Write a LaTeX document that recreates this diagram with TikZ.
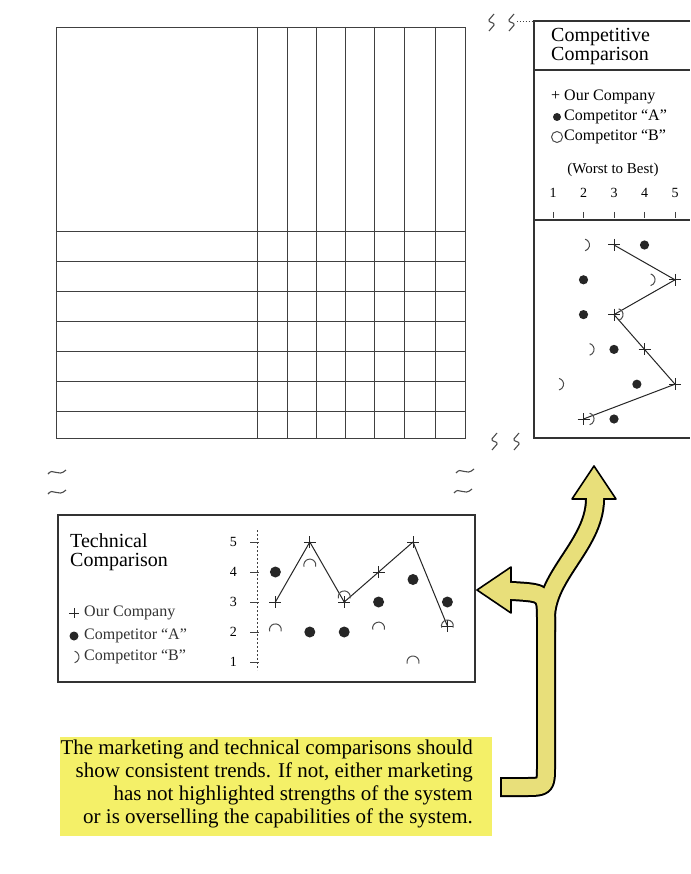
\documentclass[tikz,border=0pt]{standalone}
\usepackage{fontspec}
\setmainfont{Liberation Serif}
\usetikzlibrary{positioning}

\definecolor{hilite}{RGB}{244,240,104}
\definecolor{arrowfill}{RGB}{232,223,122}

\begin{document}
\begin{tikzpicture}[
  x=1pt, y=-1pt,
  rule/.style={line width=.9pt,black!75},
  panel/.style={line width=1.1pt,black!80},
  title/.style={anchor=west,align=left,inner sep=0pt,
    font=\fontsize{20}{19}\selectfont},
  legend/.style={anchor=west,inner sep=0pt,
    font=\fontsize{16}{18}\selectfont},
  tick/.style={inner sep=0pt,font=\fontsize{14}{16}\selectfont},
  ours/.style={line width=1pt,black!85},
  dotA/.style={fill=black!85},
  openB/.style={line width=1pt,black!70},
  squiggle/.style={line width=1.1pt,black!70,rounded corners=1.5pt},
  shaftline/.style={line cap=rect,line join=round},
  arrowhead/.style={fill=arrowfill,draw=black,line width=1.6pt,line join=round}
]
  \fill[white] (0,0) rectangle (690,874);
  \useasboundingbox (0,0) rectangle (690,874);

  % Matrix outline: empty corner, columns and rows.
  \draw[rule] (56,27) rectangle (465,438);
  \foreach \gx in {257,287,316,345,374,404,435}
    \draw[rule] (\gx,27) -- (\gx,438);
  \foreach \gy in {231,261,291,321,351,381,411}
    \draw[rule] (56,\gy) -- (465,\gy);

  % Break marks round the matrix.
  \draw[squiggle] (494,14) -- (488,21) -- (495,24) -- (489,31);
  \draw[squiggle] (514,14) -- (508,21) -- (515,24) -- (509,31);
  \draw[rule,dotted] (517,21) -- (534,21);
  \draw[squiggle] (497,433) -- (491,440) -- (498,443) -- (492,450);
  \draw[squiggle] (519,433) -- (513,440) -- (520,443) -- (514,450);
  \foreach \sx/\sy in {57/472,57/492,465/471,463/491}
    \draw[line width=1.1pt,black!70]
      (\sx-9,\sy+2) .. controls (\sx-4,\sy-5) and (\sx+1,\sy+6) .. (\sx+9,\sy-2);

  % Competitive comparison panel.
  \draw[panel] (690,21) -- (534,21) -- (534,438) -- (690,438);
  \node[title] (cmptitle) at (551,47) {Competitive\\Comparison};
  \draw[panel] (534,70) -- (690,70);
  \node[legend] (cmpours) at (551,97) {+ Our Company};
  \fill[dotA] (557,117) circle[radius=4];
  \node[legend] (cmpa) at (564,117) {Competitor ``A''};
  \draw[openB] (557,137) circle[radius=5.5];
  \node[legend] (cmpb) at (564,137) {Competitor ``B''};
  \node[tick,font=\fontsize{15}{17}\selectfont] (cmpscale) at (613,170) {(Worst to Best)};
  \foreach \v in {1,...,5} {
    \node[tick] (cnum\v) at ({553+(\v-1)*30.5},193) {\v};
    \draw[rule] ({553+(\v-1)*30.5},212) -- ++(0,6);
  }
  \draw[panel] (534,220) -- (690,220);

  \foreach \v [count=\i] in {3,5,3,4,5,2}
    \coordinate (c\i) at ({553+(\v-1)*30.5},{210.2+34.8*\i});
  \draw[ours] (c1) -- (c2) -- (c3) -- (c4) -- (c5) -- (c6);
  \foreach \i in {1,...,6}
    \draw[ours] (c\i) ++(-6,0) -- ++(12,0) (c\i) ++(0,-6) -- ++(0,12);
  \foreach \v [count=\i] in {4,2,2,3,3.75,3}
    \fill[dotA] ({553+(\v-1)*30.5},{210.2+34.8*\i}) circle[radius=4.6];
  \foreach \v [count=\i] in {2,4.15,3.1,2.15,1.15,2.15}
    \draw[openB] ({553+(\v-1)*30.5},{210.2+34.8*\i}) ++(-75:6)
      arc[start angle=-75,end angle=75,radius=6];

  % Technical comparison panel.
  \draw[panel] (58,515) rectangle (475,682);
  \node[title] (tectitle) at (70,552) {Technical\\Comparison};
  \draw[ours] (69,613) -- ++(10,0) (74,608) -- ++(0,10);
  \node[legend,text=black!80] (tecours) at (84,613) {Our Company};
  \fill[dotA] (74,636) circle[radius=4.5];
  \node[legend,text=black!80] (teca) at (84,636) {Competitor ``A''};
  \draw[openB] (73,657) ++(-75:6) arc[start angle=-75,end angle=75,radius=6];
  \node[legend,text=black!80] (tecb) at (84,657) {Competitor ``B''};
  \draw[rule,dash pattern=on 2pt off 2pt] (257,530) -- (257,670);
  \foreach \v in {1,...,5} {
    \node[tick,anchor=east] (tnum\v) at (237,{542+(5-\v)*30}) {\v};
    \draw[rule] (250,{542+(5-\v)*30}) -- ++(9,0);
  }

  \foreach \v [count=\i] in {3,5,3,4,5,2.2}
    \coordinate (t\i) at ({241+34.4*\i},{542+(5-\v)*30});
  \draw[ours] (t1) -- (t2) -- (t3) -- (t4) -- (t5) -- (t6);
  \foreach \i in {1,...,6}
    \draw[ours] (t\i) ++(-6,0) -- ++(12,0) (t\i) ++(0,-6) -- ++(0,12);
  \foreach \v [count=\i] in {4,2,2,3,3.75,3}
    \fill[dotA] ({241+34.4*\i},{542+(5-\v)*30}) circle[radius=5.5];
  \foreach \v [count=\i] in {2.07,4.23,3.17,2.13,1,2.2}
    \draw[openB] ({241+34.4*\i},{542+(5-\v)*30}) ++(165:6)
      arc[start angle=165,end angle=375,radius=6];

  % Forked arrow: black edge first, heads, then the yellow core.
  \coordinate (tail) at (510,787);
  \coordinate (upend) at (595,500);
  \coordinate (leftend) at (512,591);
  \coordinate (fork) at (546,622);
  \foreach \w/\c in {20/black,16/arrowfill} {
    \ifnum\w=16
      \filldraw[arrowhead] (594,466) -- (616,499) -- (572,499) -- cycle;
      \filldraw[arrowhead] (477,590) -- (511,567) -- (511,613) -- cycle;
    \fi
    \draw[shaftline,line width=\w pt,\c]
      (tail) -- (524,787) .. controls (546,787) .. (546,765)
      -- (546,618) .. controls (546,575) and (594,545) .. (upend);
    \draw[shaftline,line width=\w pt,\c]
      (fork) .. controls (546,593) .. (leftend);
  }

  % Highlighted note.
  \fill[hilite] (60,737) rectangle (492,836);
  \node[anchor=north east,align=right,inner sep=0pt,
    font=\fontsize{21}{23}\selectfont] (note) at (473,740)
    {The marketing and technical comparisons should\\
     show consistent trends. If not, either marketing\\
     has not highlighted strengths of the system\\
     or is overselling the capabilities of the system.};
\end{tikzpicture}
\end{document}
